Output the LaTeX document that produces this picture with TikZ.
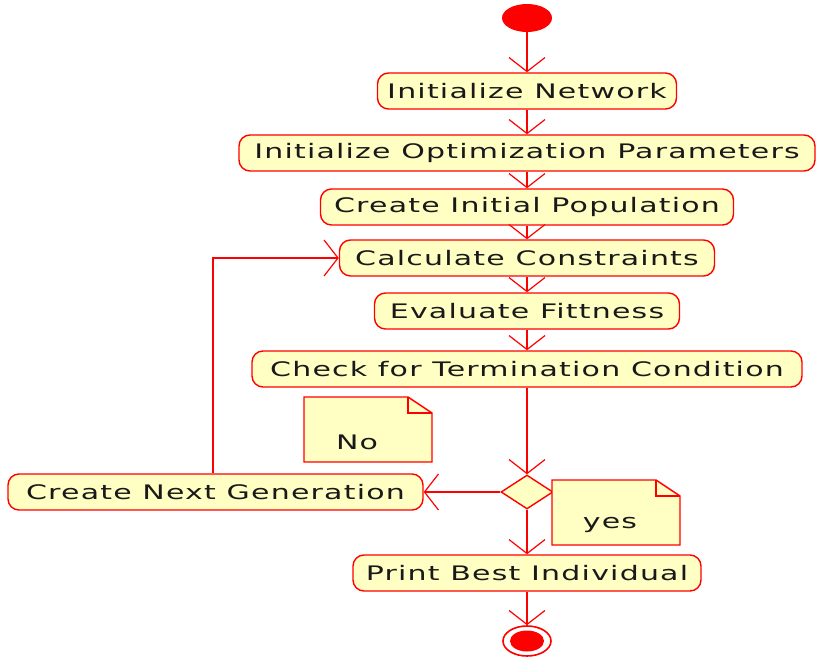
\documentclass[tikz,border=0pt]{standalone}
\usepackage{fontspec}
\setmainfont{DejaVu Sans}[FakeStretch=1.5,LetterSpace=6]
\usetikzlibrary{arrows.meta,shapes.geometric}
\definecolor{actfill}{RGB}{255,255,195}
\definecolor{ured}{RGB}{255,0,0}
\definecolor{utext}{RGB}{25,25,25}
\begin{document}
\begin{tikzpicture}[x=1pt,y=-1pt,
  act/.style={draw=ured, fill=actfill, rounded corners=11pt, line width=1.4pt,
    minimum height=36pt, inner sep=0pt, text=utext,
    font=\fontsize{20}{23}\selectfont},
  dec/.style={diamond, draw=ured, fill=actfill, line width=1.4pt, minimum width=52pt,
    minimum height=34pt, inner sep=0pt, aspect=1.6},
  note/.style={draw=ured, fill=actfill, line width=1.4pt},
  notetext/.style={text=utext, font=\fontsize{20}{23}\selectfont},
  arr/.style={draw=ured, line width=1.6pt, -{Straight Barb[length=14pt,width=36pt,line width=1.2pt]}},
  startn/.style={ellipse, fill=ured, minimum width=50pt, minimum height=28pt, inner sep=0pt},
  endo/.style={ellipse, draw=ured, line width=1.6pt, fill=white, minimum width=48pt, minimum height=30pt, inner sep=0pt},
  endi/.style={ellipse, fill=ured, minimum width=34pt, minimum height=21pt, inner sep=0pt}
]
\useasboundingbox (0,0) rectangle (817,658);
\node[startn] (s) at (527,18) {};
\node[act, minimum width=299pt] (n1) at (527,91) {Initialize Network};
\node[act, minimum width=576pt] (n2) at (527,153) {Initialize Optimization Parameters};
\node[act, minimum width=413pt] (n3) at (527,207) {Create Initial Population};
\node[act, minimum width=375pt] (n4) at (527,258) {Calculate Constraints};
\node[act, minimum width=305pt] (n5) at (527,311) {Evaluate Fittness};
\node[act, minimum width=550pt] (n6) at (527,369) {Check for Termination Condition};
\node[dec] (d) at (527,492) {};
\node[act, minimum width=415pt] (n7) at (215.5,492) {Create Next Generation};
\node[act, minimum width=348pt] (n8) at (527,573) {Print Best Individual};
\node[endo] (e) at (527,641) {};
\node[endi] (ei) at (e) {};

% notes
\draw[note] (304,397) -- (408,397) -- (432,413) -- (432,462) -- (304,462) -- cycle;
\draw[note, fill=none] (408,397) -- (408,413) -- (432,413);
\node[notetext] (no) at (357,442) {No};
\draw[note] (552,480) -- (656,480) -- (680,496) -- (680,545) -- (552,545) -- cycle;
\draw[note, fill=none] (656,480) -- (656,496) -- (680,496);
\node[notetext] (yes) at (610,525) {yes};

% connectors
\draw[arr] (s) -- (n1);
\draw[arr] (n1) -- (n2);
\draw[arr] (n2) -- (n3);
\draw[arr] (n3) -- (n4);
\draw[arr] (n4) -- (n5);
\draw[arr] (n5) -- (n6);
\draw[arr] (n6) -- (d);
\draw[arr] (d) -- (n7);
\draw[arr] (d) -- (n8);
\draw[arr] ([xshift=-2.5pt]n7.north) |- (n4.west);
\draw[arr] (n8) -- (e);
\end{tikzpicture}
\end{document}
